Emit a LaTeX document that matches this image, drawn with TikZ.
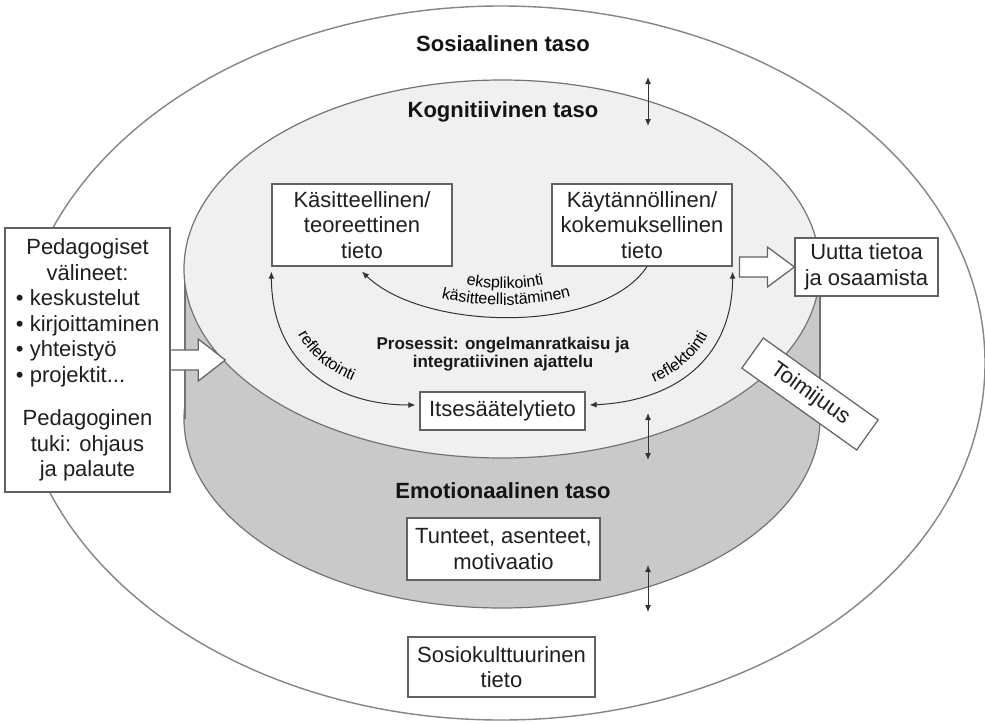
\documentclass[tikz,border=0pt]{standalone}
\usepackage{fontspec}
\setmainfont{Liberation Sans}
\usetikzlibrary{arrows.meta,decorations.text,calc}
\newcommand\smallfnt{\fontsize{16}{16}\selectfont}
\begin{document}
\begin{tikzpicture}[x=1pt,y=-1pt,
  txt/.style={text=black!88, font=\fontsize{22}{25.5}\selectfont},
  tbox/.style={txt, draw=black!62, line width=1.2pt, fill=white, align=center, inner sep=1pt},
  lvl/.style={text=black!92, font=\bfseries\fontsize{22}{25}\selectfont},
  conn/.style={draw=black!80, line width=1pt},
  tipA/.style={-{Latex[length=7pt,width=6pt]}},
  dbl/.style={{Latex[length=7pt,width=6pt]}-{Latex[length=7pt,width=6pt]}},
  harrow/.style={draw=black!62, fill=white, line width=1.2pt, line join=miter},
  alongtxt/.style={decorate, decoration={text along path, text align=center, text={|\smallfnt|#1}}},
]
\useasboundingbox (0,0) rectangle (985,723);
\fill[white] (0,0) rectangle (985,723);

% outer ellipse (social level)
\draw[draw=black!48, line width=1.4pt, fill=white] (501,363) ellipse [x radius=484, y radius=357];

% cylinder
\draw[draw=black!55, line width=1.2pt, fill=black!21] (502,419) ellipse [x radius=318, y radius=189];
\fill[black!21] (185,269) rectangle (820,419);
\draw[draw=black!55, line width=1.2pt] (185,269) -- (185,419) (820,269) -- (820,419);
\draw[draw=black!55, line width=1.2pt, fill=black!6] (502,269) ellipse [x radius=318, y radius=189];

% level titles
\node[lvl] (sos) at (503,44) {Sosiaalinen taso};
\node[lvl] (kog) at (503,112) {Kognitiivinen taso};
\node[lvl] (emo) at (503,491) {Emotionaalinen taso};

% boxes
\node[tbox, minimum width=180pt, minimum height=82pt] (kas) at (362,225) {Käsitteellinen/\\teoreettinen\\tieto};
\node[tbox, minimum width=180pt, minimum height=82pt] (kay) at (642,225) {Käytännöllinen/\\kokemuksellinen\\tieto};
\node[tbox, minimum width=143pt, minimum height=58pt] (uutta) at (866.5,267) {Uutta tietoa\\ja osaamista};
\node[tbox, minimum width=165pt, minimum height=38pt] (itse) at (502.5,411) {Itsesäätelytieto};
\node[tbox, minimum width=193pt, minimum height=62pt] (tun) at (503.5,549) {Tunteet, asenteet,\\motivaatio};
\node[tbox, minimum width=187pt, minimum height=60pt] (sosk) at (501.5,667) {Sosiokulttuurinen\\tieto};
\node[tbox, rotate=-35.5, minimum width=141pt, minimum height=37pt] (toim) at (810,394) {Toimijuus};
\node[tbox, minimum width=165pt, minimum height=264pt] (ped) at (87.5,360) {\begin{minipage}{153pt}\centering
Pedagogiset\\välineet:\par
{\raggedright
\hspace*{5pt}\textbullet\ keskustelut\\
\hspace*{5pt}\textbullet\ kirjoittaminen\\
\hspace*{5pt}\textbullet\ yhteistyö\\
\hspace*{5pt}\textbullet\ projektit...\par}
\vspace{18pt}
Pedagoginen\\tuki: ohjaus\\ja palaute\par
\end{minipage}};

% processes text
\node[text=black!90, font=\bfseries\fontsize{17}{18.5}\selectfont, align=center] (proc) at (503,354) {Prosessit: ongelmanratkaisu ja\\integratiivinen ajattelu};

% hollow arrows
\draw[harrow, shift={([xshift=0.7pt]ped.east)}] (0,-10) -- (27,-10) -- (27,-21) -- (54,0) -- (27,21) -- (27,10) -- (0,10);
\draw[harrow, shift={(uutta.west)}] (-55,-10) -- (-27,-10) -- (-27,-20) -- (0,0) -- (-27,20) -- (-27,10) -- (-55,10) -- cycle;

% knowledge process connectors
\draw[conn, dbl] ([yshift=-5pt]kas.south west) .. controls +(0,88) and +(-85,0) .. ([xshift=-4pt,yshift=6pt]itse.west);
\draw[conn, dbl] ([yshift=-5pt]kay.south east) .. controls +(0,85) and +(88,-4) .. ([xshift=4pt,yshift=6pt]itse.east);
\draw[conn, tipA] ([xshift=5pt]kay.south) .. controls +(-45,68) and +(62,60) .. ([yshift=-5pt]kas.south);

% curved labels
\path[alongtxt={eksplikointi}] (450,280) .. controls (480,291) and (530,291) .. (560,280);
\path[alongtxt={käsitteellistäminen}] (418,291) .. controls (470,310) and (540,310) .. (594,289);
\path[alongtxt={reflektointi}] (283,272) .. controls (283,350) and (335,390) .. (416,394);
\path[alongtxt={reflektointi}] (590,394) .. controls (674,392) and (722,350) .. (722,272);

% vertical double arrows between levels
\coordinate (v1a) at (648,77);  \coordinate (v1b) at (648,126);
\coordinate (v2a) at (648,413); \coordinate (v2b) at (648,460);
\coordinate (v3a) at (648,565); \coordinate (v3b) at (648,612);
\draw[conn, dbl] (v1a) -- (v1b);
\draw[conn, dbl] (v2a) -- (v2b);
\draw[conn, dbl] (v3a) -- (v3b);
\end{tikzpicture}
\end{document}
